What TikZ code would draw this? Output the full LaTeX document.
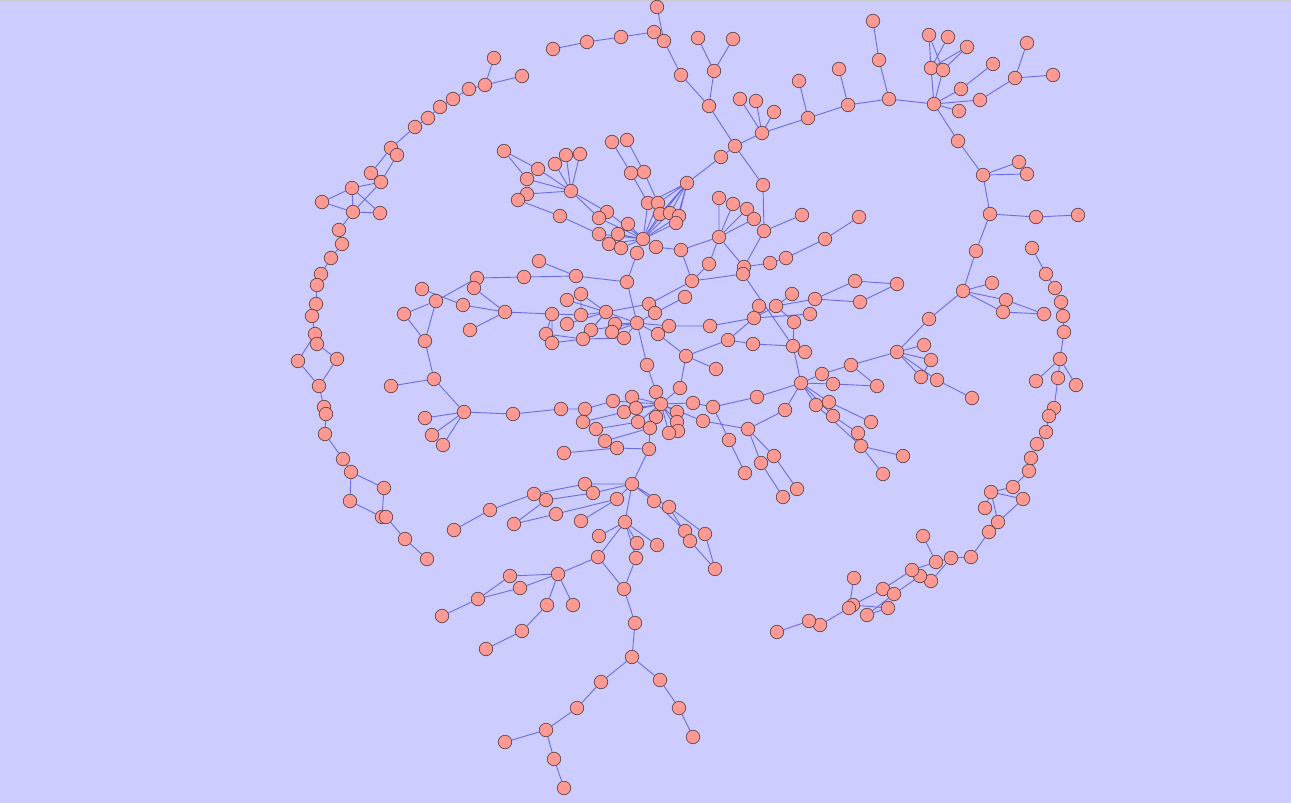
\documentclass[tikz,border=0pt]{standalone}
\usepackage{tikz}
\usetikzlibrary{backgrounds}

\definecolor{bgblue}{RGB}{204,204,255}
\definecolor{nodered}{RGB}{255,153,148}
\definecolor{rimgray}{RGB}{100,72,72}
\definecolor{linkblue}{RGB}{108,108,226}

\tikzset{
  vertex/.style={circle,draw=rimgray,fill=nodered,line width=0.7pt,inner sep=0pt,minimum size=13.5pt},
  link/.style={draw=linkblue,line width=0.9pt}
}

\begin{document}
\begin{tikzpicture}[x=1pt,y=-1pt]
\useasboundingbox (0,0) rectangle (1291,803);

% left arc
\node[vertex] (L1) at (494,58) {};  \node[vertex] (L2) at (522,76) {};  \node[vertex] (L3) at (485,85) {};
\node[vertex] (L4) at (469,89) {};  \node[vertex] (L5) at (453,99) {};  \node[vertex] (L6) at (440,107) {};
\node[vertex] (L7) at (428,118) {}; \node[vertex] (L8) at (415,127) {}; \node[vertex] (L9) at (391,148) {};
\node[vertex] (L10) at (397,155) {}; \node[vertex] (L11) at (371,173) {}; \node[vertex] (L12) at (381,182) {};
\node[vertex] (L13) at (352,188) {}; \node[vertex] (L14) at (322,202) {}; \node[vertex] (L15) at (353,212) {};
\node[vertex] (L16) at (380,213) {}; \node[vertex] (L17) at (339,230) {}; \node[vertex] (L18) at (342,244) {};
\node[vertex] (L19) at (331,258) {}; \node[vertex] (L20) at (321,274) {}; \node[vertex] (L21) at (317,285) {};
\node[vertex] (L22) at (316,304) {}; \node[vertex] (L23) at (312,316) {}; \node[vertex] (L24) at (315,334) {};
\node[vertex] (L25) at (317,344) {}; \node[vertex] (L26) at (298,361) {}; \node[vertex] (L27) at (337,359) {};
\node[vertex] (L28) at (319,386) {}; \node[vertex] (L29) at (324,407) {}; \node[vertex] (L30) at (326,414) {};
\node[vertex] (L31) at (325,434) {}; \node[vertex] (L32) at (343,459) {}; \node[vertex] (L33) at (351,472) {};
\node[vertex] (L34) at (384,488) {}; \node[vertex] (L35) at (350,501) {}; \node[vertex] (L36) at (382,517) {};
\node[vertex] (L37) at (386,517) {}; \node[vertex] (L38) at (405,539) {}; \node[vertex] (L39) at (427,559) {};

% top
\node[vertex] (T1) at (553,49) {};  \node[vertex] (T2) at (587,42) {};  \node[vertex] (T3) at (621,37) {};
\node[vertex] (T4) at (654,32) {};  \node[vertex] (T5) at (657,7) {};   \node[vertex] (T6) at (664,41) {};
\node[vertex] (T7) at (681,75) {};  \node[vertex] (T8) at (709,106) {}; \node[vertex] (T9) at (698,38) {};
\node[vertex] (T10) at (733,39) {}; \node[vertex] (T11) at (714,71) {}; \node[vertex] (T12) at (735,146) {};
\node[vertex] (T13) at (721,157) {}; \node[vertex] (T14) at (740,99) {}; \node[vertex] (T15) at (756,101) {};
\node[vertex] (T16) at (774,112) {}; \node[vertex] (T17) at (762,133) {}; \node[vertex] (T18) at (799,81) {};
\node[vertex] (T19) at (808,118) {}; \node[vertex] (T20) at (763,185) {};

% top right
\node[vertex] (R1) at (848,105) {};  \node[vertex] (R2) at (839,69) {};  \node[vertex] (R3) at (889,99) {};
\node[vertex] (R4) at (879,60) {};   \node[vertex] (R5) at (873,21) {};  \node[vertex] (R6) at (934,104) {};
\node[vertex] (R7) at (929,35) {};   \node[vertex] (R8) at (948,37) {};  \node[vertex] (R9) at (967,47) {};
\node[vertex] (R10) at (931,68) {};  \node[vertex] (R11) at (943,70) {}; \node[vertex] (R12) at (961,89) {};
\node[vertex] (R13) at (993,64) {};  \node[vertex] (R14) at (959,111) {}; \node[vertex] (R15) at (980,100) {};
\node[vertex] (R16) at (1015,78) {}; \node[vertex] (R17) at (1027,43) {}; \node[vertex] (R18) at (1053,75) {};
\node[vertex] (R19) at (958,141) {}; \node[vertex] (R20) at (983,175) {}; \node[vertex] (R21) at (1019,162) {};
\node[vertex] (R22) at (1027,174) {}; \node[vertex] (R23) at (990,214) {}; \node[vertex] (R24) at (1036,217) {};
\node[vertex] (R25) at (1078,215) {}; \node[vertex] (R26) at (976,251) {};

% right ring
\node[vertex] (E1) at (963,291) {};  \node[vertex] (E2) at (992,283) {};  \node[vertex] (E3) at (1006,300) {};
\node[vertex] (E4) at (1003,312) {}; \node[vertex] (E5) at (1044,314) {}; \node[vertex] (E6) at (929,319) {};
\node[vertex] (E7) at (897,352) {};  \node[vertex] (E8) at (924,345) {};  \node[vertex] (E9) at (931,360) {};
\node[vertex] (E10) at (921,377) {}; \node[vertex] (E11) at (937,380) {}; \node[vertex] (E12) at (972,398) {};
\node[vertex] (E13) at (851,365) {}; \node[vertex] (E14) at (822,374) {}; \node[vertex] (E15) at (877,386) {};
\node[vertex] (E16) at (1032,248) {}; \node[vertex] (E17) at (1046,274) {}; \node[vertex] (E18) at (1055,288) {};
\node[vertex] (E19) at (1061,302) {}; \node[vertex] (E20) at (1063,316) {}; \node[vertex] (E21) at (1064,332) {};
\node[vertex] (E22) at (1060,359) {}; \node[vertex] (E23) at (1036,381) {}; \node[vertex] (E24) at (1076,385) {};
\node[vertex] (E25) at (1058,378) {}; \node[vertex] (E26) at (1054,408) {}; \node[vertex] (E27) at (1049,416) {};
\node[vertex] (E28) at (1046,432) {}; \node[vertex] (E29) at (1037,444) {}; \node[vertex] (E30) at (1031,458) {};
\node[vertex] (E31) at (1029,471) {}; \node[vertex] (E32) at (1013,487) {}; \node[vertex] (E33) at (991,492) {};
\node[vertex] (E34) at (1023,499) {}; \node[vertex] (E35) at (985,508) {}; \node[vertex] (E36) at (998,522) {};
\node[vertex] (E37) at (989,532) {}; \node[vertex] (E38) at (971,557) {}; \node[vertex] (E39) at (951,558) {};
\node[vertex] (E40) at (936,562) {}; \node[vertex] (E41) at (923,536) {}; \node[vertex] (E42) at (931,581) {};
\node[vertex] (E43) at (920,576) {}; \node[vertex] (E44) at (912,570) {}; \node[vertex] (E45) at (883,589) {};
\node[vertex] (E46) at (894,594) {}; \node[vertex] (E47) at (853,605) {}; \node[vertex] (E48) at (849,608) {};
\node[vertex] (E49) at (854,578) {}; \node[vertex] (E50) at (888,608) {}; \node[vertex] (E51) at (867,615) {};
\node[vertex] (E52) at (820,625) {}; \node[vertex] (E53) at (809,621) {}; \node[vertex] (E54) at (777,632) {};

% upper right fan
\node[vertex] (F1) at (719,237) {};  \node[vertex] (F2) at (719,198) {};  \node[vertex] (F3) at (733,204) {};
\node[vertex] (F4) at (747,209) {};  \node[vertex] (F5) at (754,219) {};  \node[vertex] (F6) at (764,231) {};
\node[vertex] (F7) at (802,215) {};  \node[vertex] (F8) at (825,239) {};  \node[vertex] (F9) at (859,217) {};
\node[vertex] (F10) at (786,258) {}; \node[vertex] (F11) at (770,263) {}; \node[vertex] (F12) at (744,267) {};
\node[vertex] (F13) at (743,274) {}; \node[vertex] (F14) at (709,264) {}; \node[vertex] (F15) at (692,281) {};
\node[vertex] (F16) at (681,250) {};

% middle right
\node[vertex] (G1) at (855,281) {};  \node[vertex] (G2) at (897,284) {};  \node[vertex] (G3) at (860,302) {};
\node[vertex] (G4) at (815,299) {};  \node[vertex] (G5) at (792,294) {};  \node[vertex] (G6) at (776,306) {};
\node[vertex] (G7) at (759,306) {};  \node[vertex] (G8) at (754,318) {};  \node[vertex] (G9) at (810,314) {};
\node[vertex] (G10) at (794,322) {}; \node[vertex] (G11) at (710,326) {}; \node[vertex] (G12) at (728,340) {};
\node[vertex] (G13) at (753,344) {}; \node[vertex] (G14) at (793,346) {}; \node[vertex] (G15) at (805,352) {};
\node[vertex] (G16) at (801,383) {}; \node[vertex] (G17) at (757,397) {}; \node[vertex] (G18) at (785,410) {};
\node[vertex] (G19) at (748,429) {}; \node[vertex] (G20) at (729,440) {}; \node[vertex] (G21) at (745,473) {};
\node[vertex] (G22) at (774,456) {}; \node[vertex] (G23) at (761,463) {}; \node[vertex] (G24) at (797,489) {};
\node[vertex] (G25) at (783,497) {}; \node[vertex] (G27) at (833,384) {}; \node[vertex] (G28) at (816,405) {};
\node[vertex] (G29) at (829,402) {}; \node[vertex] (G30) at (833,416) {}; \node[vertex] (G31) at (871,422) {};
\node[vertex] (G32) at (858,433) {}; \node[vertex] (G33) at (861,446) {}; \node[vertex] (G34) at (903,456) {};
\node[vertex] (G35) at (883,474) {};

% centre
\node[vertex] (C1) at (627,282) {};  \node[vertex] (C2) at (637,253) {};  \node[vertex] (C3) at (581,294) {};
\node[vertex] (C4) at (567,300) {};  \node[vertex] (C5) at (552,314) {};  \node[vertex] (C6) at (581,315) {};
\node[vertex] (C7) at (606,312) {};  \node[vertex] (C8) at (649,304) {};  \node[vertex] (C9) at (655,313) {};
\node[vertex] (C10) at (567,324) {}; \node[vertex] (C11) at (615,324) {}; \node[vertex] (C12) at (591,330) {};
\node[vertex] (C13) at (612,332) {}; \node[vertex] (C14) at (637,323) {}; \node[vertex] (C15) at (669,326) {};
\node[vertex] (C16) at (546,334) {}; \node[vertex] (C17) at (552,343) {}; \node[vertex] (C18) at (583,339) {};
\node[vertex] (C19) at (624,338) {}; \node[vertex] (C20) at (658,334) {}; \node[vertex] (C21) at (685,297) {};
\node[vertex] (C22) at (686,356) {}; \node[vertex] (C23) at (716,369) {}; \node[vertex] (C24) at (647,365) {};
\node[vertex] (C25) at (656,392) {}; \node[vertex] (C26) at (680,388) {}; \node[vertex] (C27) at (576,276) {};
\node[vertex] (C28) at (539,261) {};

% lower centre
\node[vertex] (D1) at (661,404) {};  \node[vertex] (D2) at (561,409) {};  \node[vertex] (D3) at (585,409) {};
\node[vertex] (D4) at (613,401) {};  \node[vertex] (D5) at (632,397) {};  \node[vertex] (D6) at (624,412) {};
\node[vertex] (D7) at (636,408) {};  \node[vertex] (D8) at (583,422) {};  \node[vertex] (D9) at (596,429) {};
\node[vertex] (D10) at (638,422) {}; \node[vertex] (D11) at (656,417) {}; \node[vertex] (D12) at (677,412) {};
\node[vertex] (D13) at (677,422) {}; \node[vertex] (D14) at (678,431) {}; \node[vertex] (D15) at (669,433) {};
\node[vertex] (D16) at (650,428) {}; \node[vertex] (D17) at (605,441) {}; \node[vertex] (D18) at (617,448) {};
\node[vertex] (D19) at (564,453) {}; \node[vertex] (D20) at (649,449) {}; \node[vertex] (D21) at (693,403) {};
\node[vertex] (D22) at (713,407) {}; \node[vertex] (D23) at (703,421) {};

% bottom
\node[vertex] (B1) at (632,484) {};  \node[vertex] (B2) at (585,484) {};  \node[vertex] (B3) at (593,493) {};
\node[vertex] (B4) at (617,499) {};  \node[vertex] (B5) at (581,521) {};  \node[vertex] (B6) at (654,501) {};
\node[vertex] (B7) at (669,507) {};  \node[vertex] (B8) at (625,522) {};  \node[vertex] (B9) at (599,536) {};
\node[vertex] (B10) at (637,543) {}; \node[vertex] (B11) at (657,545) {}; \node[vertex] (B12) at (685,531) {};
\node[vertex] (B13) at (690,541) {}; \node[vertex] (B14) at (705,534) {}; \node[vertex] (B15) at (715,569) {};
\node[vertex] (B16) at (598,557) {}; \node[vertex] (B17) at (636,558) {}; \node[vertex] (B18) at (624,589) {};
\node[vertex] (B19) at (558,574) {}; \node[vertex] (B20) at (510,576) {}; \node[vertex] (B21) at (520,588) {};
\node[vertex] (B22) at (478,599) {}; \node[vertex] (B23) at (442,616) {}; \node[vertex] (B24) at (547,605) {};
\node[vertex] (B25) at (573,605) {}; \node[vertex] (B26) at (522,631) {}; \node[vertex] (B27) at (486,649) {};
\node[vertex] (B28) at (635,623) {}; \node[vertex] (B29) at (632,657) {}; \node[vertex] (B30) at (601,682) {};
\node[vertex] (B31) at (660,680) {}; \node[vertex] (B32) at (577,708) {}; \node[vertex] (B33) at (679,708) {};
\node[vertex] (B34) at (546,730) {}; \node[vertex] (B35) at (505,742) {}; \node[vertex] (B36) at (554,759) {};
\node[vertex] (B37) at (564,788) {}; \node[vertex] (B38) at (693,737) {}; \node[vertex] (B39) at (534,494) {};
\node[vertex] (B40) at (546,500) {}; \node[vertex] (B41) at (490,510) {}; \node[vertex] (B42) at (454,530) {};
\node[vertex] (B43) at (556,514) {}; \node[vertex] (B44) at (514,524) {};

% left middle
\node[vertex] (P1) at (422,289) {};  \node[vertex] (P2) at (436,301) {};  \node[vertex] (P3) at (404,314) {};
\node[vertex] (P4) at (425,341) {};  \node[vertex] (P5) at (463,305) {};  \node[vertex] (P6) at (477,278) {};
\node[vertex] (P7) at (474,288) {};  \node[vertex] (P8) at (524,277) {};  \node[vertex] (P9) at (505,312) {};
\node[vertex] (P10) at (470,330) {}; \node[vertex] (P11) at (434,379) {}; \node[vertex] (P12) at (391,386) {};
\node[vertex] (P13) at (464,412) {}; \node[vertex] (P14) at (425,418) {}; \node[vertex] (P15) at (432,435) {};
\node[vertex] (P16) at (443,445) {}; \node[vertex] (P17) at (513,414) {};

% upper centre
\node[vertex] (U1) at (504,151) {};  \node[vertex] (U2) at (538,169) {};  \node[vertex] (U3) at (527,179) {};
\node[vertex] (U4) at (555,164) {};  \node[vertex] (U5) at (566,155) {};  \node[vertex] (U6) at (580,154) {};
\node[vertex] (U7) at (571,191) {};  \node[vertex] (U8) at (527,194) {};  \node[vertex] (U9) at (518,200) {};
\node[vertex] (U10) at (560,216) {}; \node[vertex] (U11) at (607,212) {}; \node[vertex] (U12) at (599,218) {};
\node[vertex] (U13) at (599,234) {}; \node[vertex] (U14) at (609,244) {}; \node[vertex] (U15) at (618,234) {};
\node[vertex] (U16) at (628,224) {}; \node[vertex] (U17) at (621,248) {}; \node[vertex] (U18) at (643,239) {};
\node[vertex] (U19) at (656,247) {}; \node[vertex] (U20) at (612,142) {}; \node[vertex] (U21) at (627,140) {};
\node[vertex] (U22) at (631,173) {}; \node[vertex] (U23) at (644,172) {}; \node[vertex] (U24) at (648,203) {};
\node[vertex] (U25) at (658,203) {}; \node[vertex] (U26) at (660,214) {}; \node[vertex] (U27) at (670,213) {};
\node[vertex] (U28) at (679,216) {}; \node[vertex] (U29) at (676,223) {}; \node[vertex] (U30) at (687,183) {};

\begin{scope}[on background layer]
\fill[bgblue] (0,0) rectangle (1291,803);
\fill[black!20] (0,0) rectangle (1291,1.5);
% left arc
\draw[link] (L1) -- (L3) (L2) -- (L3) (L3) -- (L4) (L4) -- (L5) (L5) -- (L6) (L6) -- (L7) (L7) -- (L8);
\draw[link] (L8) -- (L9) (L9) -- (L11) (L9) -- (L10) (L10) -- (L12) (L12) -- (L13) (L13) -- (L14);
\draw[link] (L13) -- (L15) (L13) -- (L16) (L14) -- (L15) (L15) -- (L16) (L12) -- (L15) (L15) -- (L17);
\draw[link] (L17) -- (L18) (L18) -- (L19) (L19) -- (L20) (L20) -- (L21) (L21) -- (L22) (L22) -- (L23);
\draw[link] (L23) -- (L24) (L24) -- (L25) (L24) -- (L26) (L25) -- (L27) (L26) -- (L28) (L27) -- (L28);
\draw[link] (L28) -- (L29) (L29) -- (L30) (L30) -- (L31) (L31) -- (L32) (L32) -- (L33) (L33) -- (L34);
\draw[link] (L33) -- (L35) (L34) -- (L36) (L35) -- (L36) (L36) -- (L37) (L37) -- (L38) (L38) -- (L39);
% top
\draw[link] (T1) -- (T2) (T2) -- (T3) (T3) -- (T4) (T4) -- (T6) (T5) -- (T6) (T6) -- (T7) (T7) -- (T8);
\draw[link] (T9) -- (T11) (T10) -- (T11) (T11) -- (T8) (T8) -- (T12) (T12) -- (T13) (T12) -- (T17);
\draw[link] (T14) -- (T17) (T15) -- (T17) (T16) -- (T17) (T17) -- (T19) (T18) -- (T19) (T12) -- (T20);
% top right
\draw[link] (T19) -- (R1) (R2) -- (R1) (R1) -- (R3) (R5) -- (R4) (R4) -- (R3) (R3) -- (R6);
\draw[link] (R7) -- (R10) (R7) -- (R11) (R8) -- (R10) (R9) -- (R10) (R9) -- (R11) (R10) -- (R6) (R11) -- (R6);
\draw[link] (R6) -- (R12) (R12) -- (R13) (R6) -- (R14) (R6) -- (R15) (R15) -- (R16) (R16) -- (R17) (R16) -- (R18);
\draw[link] (R6) -- (R19) (R19) -- (R20) (R20) -- (R21) (R20) -- (R22) (R20) -- (R23) (R23) -- (R24);
\draw[link] (R24) -- (R25) (R23) -- (R26) (R26) -- (E1);
% right ring
\draw[link] (E1) -- (E2) (E1) -- (E3) (E1) -- (E4) (E3) -- (E5) (E4) -- (E5) (E1) -- (E6) (E6) -- (E7);
\draw[link] (E7) -- (E8) (E7) -- (E9) (E7) -- (E10) (E7) -- (E11) (E9) -- (E10) (E11) -- (E12);
\draw[link] (E7) -- (E13) (E13) -- (E14) (E13) -- (E15);
\draw[link] (E16) -- (E17) (E17) -- (E18) (E18) -- (E19) (E19) -- (E20) (E20) -- (E21) (E21) -- (E22);
\draw[link] (E22) -- (E23) (E22) -- (E24) (E22) -- (E25) (E25) -- (E26) (E26) -- (E27) (E27) -- (E28);
\draw[link] (E28) -- (E29) (E29) -- (E30) (E30) -- (E31) (E31) -- (E32) (E32) -- (E33) (E33) -- (E34);
\draw[link] (E33) -- (E36) (E34) -- (E36) (E35) -- (E33) (E36) -- (E37) (E37) -- (E38) (E38) -- (E39);
\draw[link] (E39) -- (E40) (E40) -- (E41) (E39) -- (E42) (E42) -- (E43) (E43) -- (E46) (E46) -- (E51);
\draw[link] (E40) -- (E44) (E44) -- (E45) (E45) -- (E47) (E47) -- (E50) (E51) -- (E50) (E49) -- (E48);
\draw[link] (E48) -- (E52) (E52) -- (E53) (E53) -- (E54);
% upper right fan
\draw[link] (T20) -- (F6) (F2) -- (F1) (F3) -- (F1) (F4) -- (F1) (F5) -- (F1) (F1) -- (F16) (F1) -- (F14);
\draw[link] (F14) -- (F15) (F1) -- (F12) (F6) -- (F7) (F6) -- (F12) (F12) -- (F11) (F11) -- (F10);
\draw[link] (F10) -- (F8) (F8) -- (F9) (F13) -- (F15) (F16) -- (F15);
% middle right
\draw[link] (G6) -- (G4) (G4) -- (G1) (G4) -- (G3) (G1) -- (G2) (G3) -- (G2) (G6) -- (G5) (G8) -- (G6);
\draw[link] (G7) -- (G8) (G8) -- (G9) (G8) -- (G12) (G11) -- (G8) (G12) -- (G13) (G13) -- (G14);
\draw[link] (G6) -- (G10) (G10) -- (G14) (F13) -- (G14) (G14) -- (G15) (G14) -- (G16) (G17) -- (G16);
\draw[link] (G16) -- (G18) (G18) -- (G19) (G19) -- (G22) (G19) -- (G23) (G23) -- (G25) (G22) -- (G24);
\draw[link] (G20) -- (G21) (G16) -- (E14) (G16) -- (G27) (G16) -- (G28) (G16) -- (G29) (G16) -- (G30);
\draw[link] (G27) -- (E15) (G29) -- (G31) (G30) -- (G32) (G28) -- (G33) (G33) -- (G34) (G33) -- (G35);
% centre
\draw[link] (C2) -- (C1) (C1) -- (C14) (C14) -- (C24) (C24) -- (C25) (C25) -- (D1) (C22) -- (C26);
\draw[link] (C26) -- (D1) (C28) -- (C27) (C27) -- (C1) (P8) -- (C27) (C5) -- (C6) (C6) -- (C7);
\draw[link] (C7) -- (C14) (C3) -- (C7) (C4) -- (C7) (C3) -- (C6) (C5) -- (C16) (C5) -- (C17);
\draw[link] (C16) -- (C18) (C17) -- (C18) (C18) -- (C19) (C10) -- (C7) (C12) -- (C7) (C12) -- (C14);
\draw[link] (C13) -- (C14) (C11) -- (C14) (C19) -- (C14) (C18) -- (C7) (C7) -- (C8) (C14) -- (C9);
\draw[link] (C14) -- (C20) (C14) -- (C15) (C21) -- (C9) (C8) -- (F15) (C15) -- (G11) (C20) -- (C22);
\draw[link] (C22) -- (G12) (C22) -- (C23);
% lower centre
\draw[link] (D2) -- (D3) (D3) -- (D4) (D4) -- (D1) (D5) -- (D1) (D6) -- (D1) (D7) -- (D1) (D8) -- (D6);
\draw[link] (D9) -- (D10) (D10) -- (D1) (D11) -- (D1) (D12) -- (D1) (D13) -- (D1) (D14) -- (D1);
\draw[link] (D15) -- (D1) (D16) -- (D1) (D17) -- (D16) (D18) -- (D20) (D19) -- (D18) (D20) -- (D16);
\draw[link] (D1) -- (D21) (D21) -- (D22) (D22) -- (G17) (D22) -- (G20) (D23) -- (G19) (D1) -- (D23);
% bottom
\draw[link] (D20) -- (B1) (B1) -- (B2) (B1) -- (B3) (B1) -- (B4) (B4) -- (B5) (B1) -- (B6) (B1) -- (B7);
\draw[link] (B6) -- (B12) (B7) -- (B13) (B7) -- (B14) (B13) -- (B15) (B14) -- (B15) (B1) -- (B8);
\draw[link] (B8) -- (B9) (B8) -- (B10) (B8) -- (B11) (B8) -- (B16) (B8) -- (B17) (B16) -- (B18);
\draw[link] (B17) -- (B18) (B16) -- (B19) (B19) -- (B20) (B19) -- (B21) (B20) -- (B22) (B21) -- (B22);
\draw[link] (B22) -- (B23) (B19) -- (B24) (B19) -- (B25) (B24) -- (B26) (B26) -- (B27) (B18) -- (B28);
\draw[link] (B28) -- (B29) (B29) -- (B30) (B30) -- (B32) (B32) -- (B34) (B34) -- (B35) (B34) -- (B36);
\draw[link] (B36) -- (B37) (B29) -- (B31) (B31) -- (B33) (B33) -- (B38) (B42) -- (B41) (B41) -- (B39);
\draw[link] (B39) -- (B2) (B40) -- (B3) (B44) -- (B40) (B44) -- (B43) (B43) -- (B4);
% left middle
\draw[link] (P2) -- (P6) (P1) -- (P5) (P5) -- (P9) (P7) -- (P9) (P6) -- (P8) (P9) -- (C5) (P9) -- (P10);
\draw[link] (P2) -- (P3) (P3) -- (P4) (P2) -- (P4) (P4) -- (P11) (P11) -- (P12) (P11) -- (P13);
\draw[link] (P13) -- (P14) (P13) -- (P15) (P13) -- (P16) (P13) -- (P17) (P17) -- (D2);
% upper centre
\draw[link] (U1) -- (U2) (U2) -- (U7) (U1) -- (U3) (U3) -- (U7) (U4) -- (U7) (U5) -- (U7) (U6) -- (U7);
\draw[link] (U8) -- (U7) (U9) -- (U10) (U10) -- (U13) (U7) -- (U12) (U7) -- (U11) (U12) -- (U18);
\draw[link] (U11) -- (U18) (U13) -- (U18) (U14) -- (U18) (U15) -- (U18) (U16) -- (U18) (U17) -- (U18);
\draw[link] (U18) -- (C2) (U18) -- (U19) (U19) -- (F16) (U20) -- (U22) (U22) -- (U24) (U24) -- (U18);
\draw[link] (U21) -- (U23) (U23) -- (U25) (U25) -- (U18) (U26) -- (U18) (U27) -- (U18) (U28) -- (U18);
\draw[link] (U29) -- (U18) (U30) -- (U18) (U30) -- (U24) (U30) -- (U25) (U30) -- (U26) (U30) -- (U27);
\draw[link] (U30) -- (U28) (U30) -- (U29) (U30) -- (T13);
\end{scope}
\end{tikzpicture}
\end{document}
